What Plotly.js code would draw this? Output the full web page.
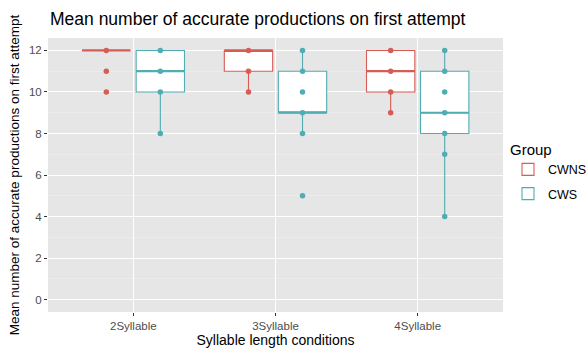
<!DOCTYPE html>
<html>
<head>
<meta charset="utf-8">
<script src="https://cdn.plot.ly/plotly-3.0.1.min.js"></script>
<style>html,body{margin:0;padding:0;background:#fff;}#chart{width:586px;height:350px;}</style>
</head>
<body>
<div id="chart"></div>
<script>
// ---- data ----
var categories = ["2Syllable", "3Syllable", "4Syllable"];
var groups = ["CWNS", "CWS"];

// box statistics per category
var cwnsQ1 = [12, 11, 10];
var cwnsMedian = [12, 12, 11];
var cwnsQ3 = [12, 12, 12];
var cwnsLower = [12, 10, 9];
var cwnsUpper = [12, 12, 12];

var cwsQ1 = [10, 9, 8];
var cwsMedian = [11, 9, 9];
var cwsQ3 = [12, 11, 11];
var cwsLower = [8, 8, 4];
var cwsUpper = [12, 12, 12];

// individual observed values (distinct) per category
var cwnsPoints = [[12, 11, 10], [12, 11, 10], [12, 11, 10, 9]];
var cwsPoints = [[12, 11, 10, 8], [12, 11, 10, 9, 8, 5], [12, 11, 10, 9, 8, 7, 4]];

// ---- styling ----
var colors = {CWNS: "#D65C55", CWS: "#4FADB3"};
var dodge = 0.19;
var boxW = 0.34;

function boxTrace(name, off, q1, med, q3, lo, hi) {
  return {
    type: "box", name: name, legendgroup: name,
    x: categories.map(function (c, i) { return i + off; }),
    q1: q1, median: med, q3: q3, lowerfence: lo, upperfence: hi,
    width: boxW, whiskerwidth: 0, boxpoints: false,
    fillcolor: "#ffffff", line: {color: colors[name], width: 1.1},
    hoverinfo: "skip"
  };
}
function medianTrace(name, off, med) {
  var xs = [], ys = [];
  med.forEach(function (m, i) {
    xs.push(i + off - boxW / 2, i + off + boxW / 2, null);
    ys.push(m, m, null);
  });
  return {type: "scatter", mode: "lines", x: xs, y: ys, showlegend: false,
    line: {color: colors[name], width: 2.2}, hoverinfo: "skip", legendgroup: name};
}
function pointTrace(name, off, pts) {
  var xs = [], ys = [];
  pts.forEach(function (arr, i) {
    arr.forEach(function (v) { xs.push(i + off); ys.push(v); });
  });
  return {type: "scatter", mode: "markers", x: xs, y: ys, showlegend: false,
    marker: {color: colors[name], size: 5.5}, legendgroup: name};
}

var data = [
  boxTrace("CWNS", -dodge, cwnsQ1, cwnsMedian, cwnsQ3, cwnsLower, cwnsUpper),
  boxTrace("CWS", dodge, cwsQ1, cwsMedian, cwsQ3, cwsLower, cwsUpper),
  medianTrace("CWNS", -dodge, cwnsMedian),
  medianTrace("CWS", dodge, cwsMedian),
  pointTrace("CWNS", -dodge, cwnsPoints),
  pointTrace("CWS", dodge, cwsPoints)
];

var font = "Liberation Sans, Arial, sans-serif";
var layout = {
  width: 586, height: 350,
  margin: {l: 48, r: 83, t: 38, b: 38, autoexpand: false},
  paper_bgcolor: "#ffffff", plot_bgcolor: "#E6E6E6",
  font: {family: font, color: "#000"},
  boxmode: "overlay",
  title: {text: "Mean number of accurate productions on first attempt",
    x: 50 / 586, xanchor: "left", xref: "container",
    y: 1 - 19 / 350, yanchor: "middle", yref: "container",
    font: {size: 17.5, color: "#000", family: font}},
  xaxis: {
    range: [-0.6, 2.6], tickmode: "array", tickvals: [0, 1, 2], ticktext: categories,
    showgrid: true, gridcolor: "#ffffff", gridwidth: 1, zeroline: false,
    ticks: "outside", ticklen: 3, tickcolor: "#333333", tickwidth: 1,
    tickfont: {size: 11.5, color: "#4D4D4D", family: font},
    showline: false,
    title: {text: "Syllable length conditions", font: {size: 14, color: "#000", family: font}, standoff: 2}
  },
  yaxis: {
    range: [-0.6, 12.6], tickmode: "linear", tick0: 0, dtick: 2,
    showgrid: true, gridcolor: "#ffffff", gridwidth: 1, zeroline: false,
    minor: {dtick: 1, tick0: 0, showgrid: true, gridcolor: "#F2F2F2", gridwidth: 0.5, ticks: ""},
    ticks: "outside", ticklen: 3, tickcolor: "#333333", tickwidth: 1,
    tickfont: {size: 11.5, color: "#4D4D4D", family: font},
    title: {text: "Mean number of accurate productions on first attempt",
      font: {size: 13.5, color: "#000", family: font}, standoff: 6}
  },
  legend: {
    xref: "container", x: 508 / 586, xanchor: "left", y: 0.645, yanchor: "top",
    title: {text: "Group", font: {size: 15, color: "#000", family: font}},
    font: {size: 12.5, color: "#000", family: font},
    bgcolor: "rgba(0,0,0,0)", tracegroupgap: 5
  },
  showlegend: true
};

Plotly.newPlot("chart", data, layout, {displayModeBar: false, staticPlot: true});
</script>
</body>
</html>
